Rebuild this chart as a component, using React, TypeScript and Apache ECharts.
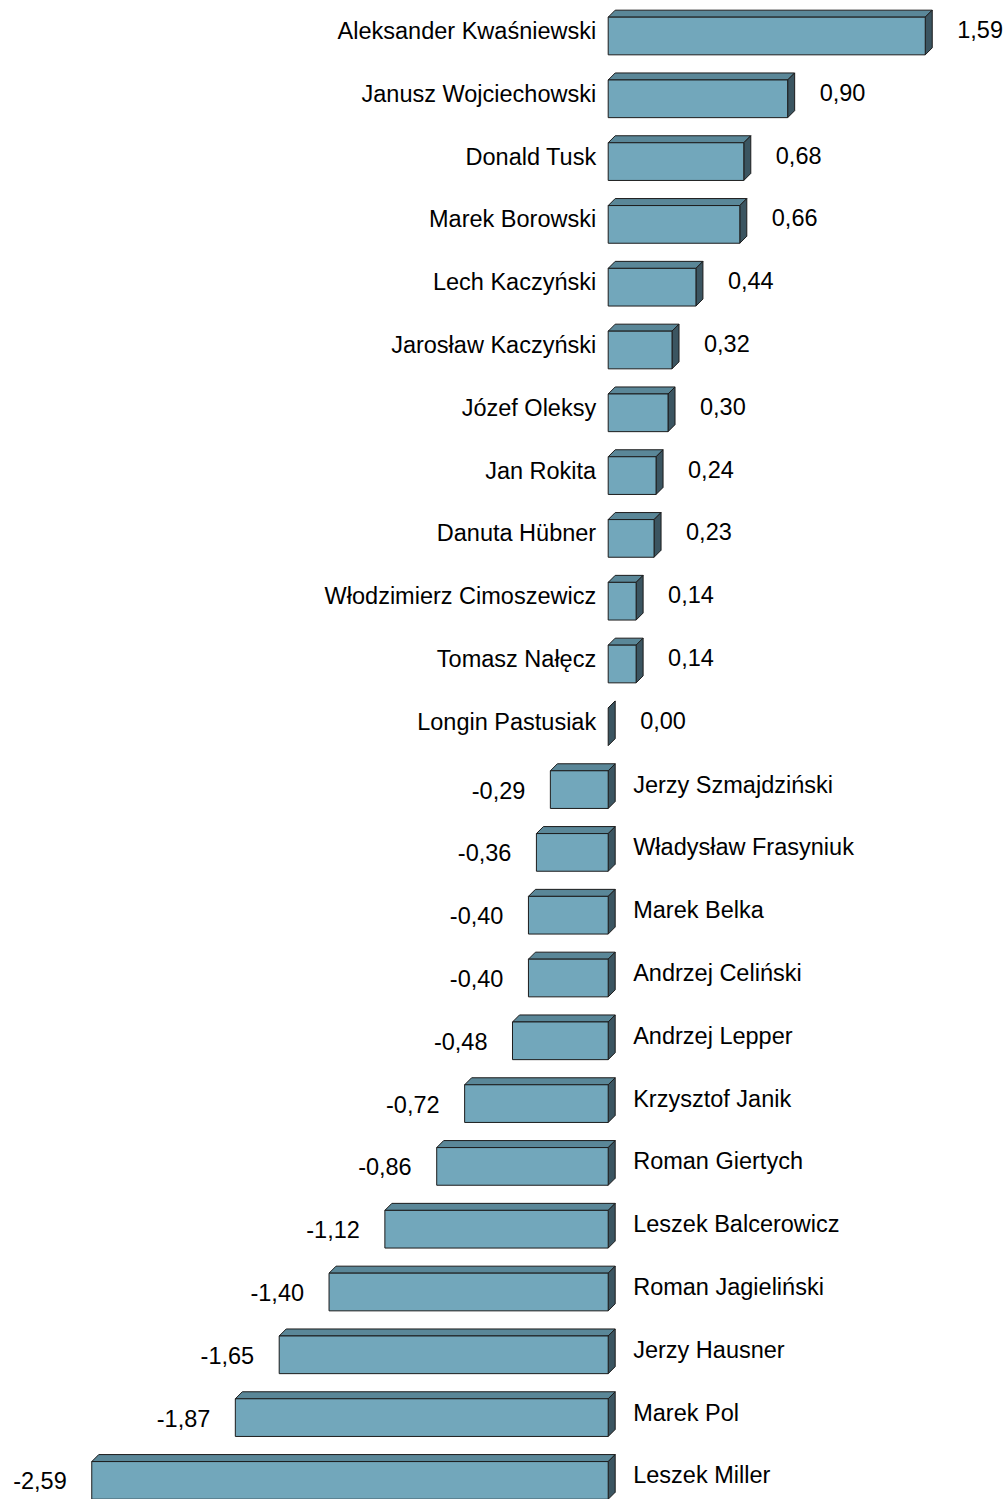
import React, { useEffect, useRef } from "react";
import * as echarts from "echarts";

const names: string[] = [
  "Aleksander Kwaśniewski",
  "Janusz Wojciechowski",
  "Donald Tusk",
  "Marek Borowski",
  "Lech Kaczyński",
  "Jarosław Kaczyński",
  "Józef Oleksy",
  "Jan Rokita",
  "Danuta Hübner",
  "Włodzimierz Cimoszewicz",
  "Tomasz Nałęcz",
  "Longin Pastusiak",
  "Jerzy Szmajdziński",
  "Władysław Frasyniuk",
  "Marek Belka",
  "Andrzej Celiński",
  "Andrzej Lepper",
  "Krzysztof Janik",
  "Roman Giertych",
  "Leszek Balcerowicz",
  "Roman Jagieliński",
  "Jerzy Hausner",
  "Marek Pol",
  "Leszek Miller",
];

const values: number[] = [
  1.59, 0.9, 0.68, 0.66, 0.44, 0.32, 0.3, 0.24, 0.23, 0.14, 0.14, 0.0,
  -0.29, -0.36, -0.4, -0.4, -0.48, -0.72, -0.86, -1.12, -1.4, -1.65, -1.87,
  -2.59,
];

const FONT = '"Liberation Sans", Arial, sans-serif';
const FS = 23.5;
const FRONT = "#72a7bb";
const TOP = "#5a8798";
const SIDE = "#3b5561";
const EDGE = "#1c1c1c";
const DEPTH = 7;

function fmt(v: number): string {
  return v.toFixed(2).replace(".", ",");
}

export default function App() {
  const ref = useRef<HTMLDivElement>(null);
  useEffect(() => {
    document.body.style.margin = "0";
    if (!ref.current) return;
    const chart = echarts.init(ref.current, undefined, { renderer: "svg" });
    const data = values.map((v, i) => [v, i]);
    chart.setOption({
      animation: false,
      grid: { left: 10, right: 1, top: 4.6, bottom: 0 },
      xAxis: { type: "value", min: -3, max: 2, show: false },
      yAxis: { type: "value", min: -0.5, max: 23.296, inverse: true, show: false },
      series: [
        {
          type: "custom",
          data,
          clip: false,
          renderItem: (params: any, api: any) => {
            const v = api.value(0);
            const i = api.value(1);
            const zero = api.coord([0, i]);
            const end = api.coord([v, i]);
            const rowH = api.size([0, 1])[1];
            const h = rowH * 0.6;
            const yc = zero[1];
            const yT = yc - h / 2;
            const yB = yc + h / 2;
            const xL = Math.min(zero[0], end[0]);
            const xR = Math.max(zero[0], end[0]);
            const d = DEPTH;
            const lw = 1;
            const children: any[] = [
              {
                type: "polygon",
                shape: { points: [[xL, yT], [xL + d, yT - d], [xR + d, yT - d], [xR, yT]] },
                style: { fill: TOP, stroke: EDGE, lineWidth: lw },
              },
              {
                type: "polygon",
                shape: { points: [[xR, yT], [xR + d, yT - d], [xR + d, yB - d], [xR, yB]] },
                style: { fill: SIDE, stroke: EDGE, lineWidth: lw },
              },
            ];
            if (xR - xL > 0.5) {
              children.push({
                type: "rect",
                shape: { x: xL, y: yT, width: xR - xL, height: h },
                style: { fill: FRONT, stroke: EDGE, lineWidth: lw },
              });
            }
            const name = names[i];
            if (v >= 0) {
              children.push({
                type: "text",
                style: {
                  text: name, x: zero[0] - 12, y: yc - 5,
                  align: "right", verticalAlign: "middle",
                  fontSize: FS, fontFamily: FONT, fill: "#000",
                },
              });
              children.push({
                type: "text",
                style: {
                  text: fmt(v), x: xR + d + 25, y: yc - 6,
                  align: "left", verticalAlign: "middle",
                  fontSize: FS, fontFamily: FONT, fill: "#000",
                },
              });
            } else {
              children.push({
                type: "text",
                style: {
                  text: name, x: zero[0] + 25, y: yc - 5,
                  align: "left", verticalAlign: "middle",
                  fontSize: FS, fontFamily: FONT, fill: "#000",
                },
              });
              children.push({
                type: "text",
                style: {
                  text: fmt(v), x: xL - 25, y: yc + 1,
                  align: "right", verticalAlign: "middle",
                  fontSize: FS, fontFamily: FONT, fill: "#000",
                },
              });
            }
            return { type: "group", children };
          },
        },
      ],
    });
    return () => chart.dispose();
  }, []);
  return <div ref={ref} style={{ width: 1008, height: 1499 }} />;
}
